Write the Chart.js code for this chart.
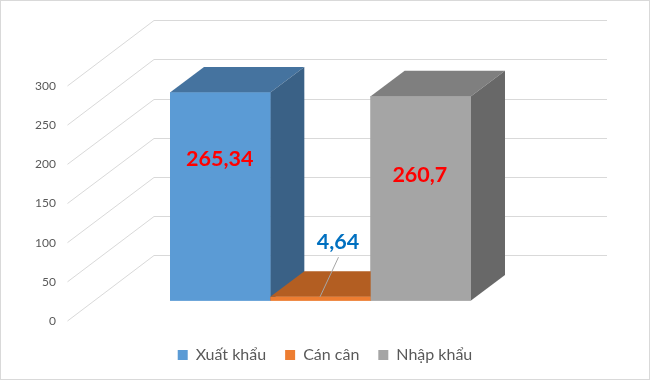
<!DOCTYPE html>
<html>
<head>
<meta charset="utf-8">
<script src="https://cdn.jsdelivr.net/npm/chart.js@4"></script>
<style>
  html, body { margin: 0; padding: 0; background: #ffffff; }
  #wrap { width: 650px; height: 380px; }
</style>
</head>
<body>
<div id="wrap"><canvas id="c" width="650" height="380"></canvas></div>
<script>
// ---- data ----
const categories = ['Xuất khẩu', 'Cán cân', 'Nhập khẩu'];
const values = [265.34, 4.64, 260.7];
const valueLabels = ['265,34', '4,64', '260,7'];
const tickValues = [0, 50, 100, 150, 200, 250, 300];

// ---- styles ----
const frontColors = ['#5B9BD5', '#ED7D31', '#A5A5A5'];
const topColors = ['#45739F', '#B35E22', '#7F7F7F'];
const sideColors = ['#3A6186', '#9E5220', '#686868'];
const labelColors = ['#FF0000', '#0070C0', '#FF0000'];
const labelOffsets = [[-0.5, -37.6], [17.5, -56.5], [-1, -23.3]];
const labelLeader = [false, true, false];
const DEPTH_X = 34, DEPTH_Y = 25.5;      // bar depth
const WALL_X = 86.5, WALL_Y = 65.7;      // floor depth (front axis -> back wall)
const FRONT_LEFT = 67.5, WALL_RIGHT = 607;
const GRID = '#D9D9D9';
const FONT = 'Lato, "Open Sans", sans-serif';

const datasets = categories.map((c, i) => ({
  label: c,
  data: categories.map((_, j) => (j === i ? values[i] : null)),
  backgroundColor: frontColors[i],
  borderWidth: 0,
  grouped: false,
  categoryPercentage: 1,
  barPercentage: 1
}));

const threeD = {
  id: 'threeD',
  beforeDraw(chart) {
    const ctx = chart.ctx;
    ctx.save();
    ctx.fillStyle = '#ffffff';
    ctx.fillRect(0, 0, chart.width, chart.height);
    ctx.strokeStyle = GRID;
    ctx.lineWidth = 1;
    ctx.strokeRect(0.5, 0.5, chart.width - 1, chart.height - 1);
    ctx.restore();
  },
  beforeDatasetsDraw(chart) {
    const ctx = chart.ctx;
    const yt = chart.scales.yt;
    ctx.save();
    ctx.strokeStyle = GRID;
    ctx.lineWidth = 1;
    tickValues.forEach(v => {
      const yf = yt.getPixelForValue(v);
      const yb = Math.round(yf - WALL_Y) + 0.5;
      ctx.beginPath();
      ctx.moveTo(FRONT_LEFT, yf);
      ctx.lineTo(FRONT_LEFT + WALL_X, yb);
      ctx.lineTo(WALL_RIGHT, yb);
      ctx.stroke();
    });
    ctx.restore();
  },
  afterDatasetsDraw(chart) {
    const ctx = chart.ctx;
    ctx.save();
    categories.forEach((_, i) => {
      const el = chart.getDatasetMeta(i).data[i];
      const p = el.getProps(['x', 'y', 'base', 'width'], true);
      const l = p.x - p.width / 2, r = p.x + p.width / 2, t = p.y, b = p.base;
      ctx.fillStyle = topColors[i];
      ctx.beginPath();
      ctx.moveTo(l, t); ctx.lineTo(r, t);
      ctx.lineTo(r + DEPTH_X, t - DEPTH_Y); ctx.lineTo(l + DEPTH_X, t - DEPTH_Y);
      ctx.closePath(); ctx.fill();
      ctx.fillStyle = sideColors[i];
      ctx.beginPath();
      ctx.moveTo(r, t); ctx.lineTo(r + DEPTH_X, t - DEPTH_Y);
      ctx.lineTo(r + DEPTH_X, b - DEPTH_Y); ctx.lineTo(r, b);
      ctx.closePath(); ctx.fill();
      ctx.fillStyle = frontColors[i];
      ctx.fillRect(l, t, r - l, b - t);
    });
    categories.forEach((_, i) => {
      const el = chart.getDatasetMeta(i).data[i];
      const p = el.getProps(['x', 'y', 'base'], true);
      const lx = p.x + labelOffsets[i][0];
      const ly = (p.y + p.base) / 2 + labelOffsets[i][1];
      if (labelLeader[i]) {
        ctx.strokeStyle = '#A6A6A6';
        ctx.lineWidth = 1;
        ctx.beginPath();
        ctx.moveTo(lx + 0.5, ly + 15);
        ctx.lineTo(p.x - 0.5, p.y);
        ctx.stroke();
      }
      ctx.fillStyle = labelColors[i];
      ctx.font = 'bold 21.5px ' + FONT;
      ctx.textAlign = 'center';
      ctx.textBaseline = 'middle';
      ctx.fillText(valueLabels[i], lx, ly);
    });
    ctx.restore();
  }
};

new Chart(document.getElementById('c'), {
  type: 'bar',
  data: { labels: categories, datasets },
  options: {
    responsive: false,
    animation: false,
    devicePixelRatio: 1,
    layout: { padding: { left: 0, right: 0, top: 20, bottom: 7 } },
    scales: {
      x: {
        display: true,
        offset: true,
        grid: { display: false, drawTicks: true, tickLength: 7 },
        border: { display: false },
        ticks: { display: false }
      },
      y: { display: false, min: -26.16, max: 358.0 },
      yt: {
        position: 'left',
        min: 0,
        max: 384.17,
        afterBuildTicks: s => { s.ticks = tickValues.map(v => ({ value: v })); },
        afterFit: s => { s.width = 170; s.paddingTop = 0; s.paddingBottom = 0; },
        grid: { display: false, drawTicks: false },
        border: { display: false },
        ticks: {
          autoSkip: false,
          padding: 114,
          color: '#595959',
          font: { family: FONT, size: 12 },
          callback: v => String(v)
        }
      },
      spacer: {
        position: 'right',
        min: 0,
        max: 1,
        afterFit: s => { s.width = 179; s.paddingTop = 0; s.paddingBottom = 0; },
        grid: { display: false, drawTicks: false },
        border: { display: false },
        ticks: { display: false }
      }
    },
    plugins: {
      legend: {
        position: 'bottom',
        labels: {
          boxWidth: 10,
          boxHeight: 10,
          padding: 19,
          color: '#595959',
          font: { family: FONT, size: 16 }
        }
      },
      tooltip: { enabled: false }
    }
  },
  plugins: [threeD]
});
</script>
</body>
</html>
